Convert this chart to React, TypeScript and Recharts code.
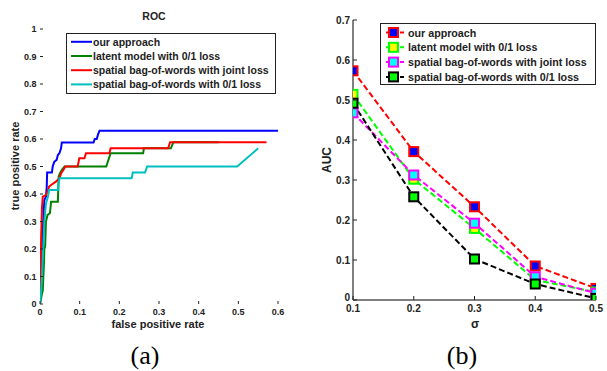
import React from 'react';
import { LineChart, Line, XAxis, YAxis, Legend } from 'recharts';

// ---------- (a) ROC data ----------
const rocXTicks = [0, 0.1, 0.2, 0.3, 0.4, 0.5, 0.6];
const rocYTicks = [0, 0.1, 0.2, 0.3, 0.4, 0.5, 0.6, 0.7, 0.8, 0.9, 1];

const oursFpr = [0, 0.003, 0.007, 0.011, 0.015, 0.017, 0.018, 0.03, 0.032, 0.036, 0.042, 0.045, 0.049, 0.053, 0.055, 0.135, 0.138, 0.143, 0.146, 0.15, 0.6];
const oursTpr = [0, 0.08, 0.27, 0.378, 0.39, 0.427, 0.478, 0.478, 0.5, 0.517, 0.524, 0.542, 0.548, 0.566, 0.587, 0.587, 0.6, 0.6, 0.615, 0.63, 0.63];

const latentFpr = [0, 0.004, 0.007, 0.01, 0.011, 0.013, 0.015, 0.019, 0.025, 0.028, 0.045, 0.046, 0.047, 0.05, 0.056, 0.062, 0.167, 0.178, 0.26, 0.262, 0.33, 0.336, 0.45];
const latentTpr = [0, 0.03, 0.05, 0.15, 0.2, 0.21, 0.3, 0.324, 0.33, 0.372, 0.372, 0.415, 0.463, 0.475, 0.49, 0.5, 0.5, 0.548, 0.548, 0.566, 0.566, 0.588, 0.588];

const jointFpr = [0, 0.001, 0.003, 0.005, 0.007, 0.015, 0.019, 0.023, 0.028, 0.04, 0.049, 0.053, 0.06, 0.064, 0.095, 0.099, 0.112, 0.116, 0.175, 0.178, 0.323, 0.328, 0.571];
const jointTpr = [0, 0.1, 0.25, 0.35, 0.39, 0.396, 0.408, 0.427, 0.433, 0.445, 0.457, 0.475, 0.49, 0.5, 0.5, 0.53, 0.53, 0.548, 0.548, 0.566, 0.566, 0.588, 0.588];

const zeroOneFpr = [0, 0.002, 0.005, 0.008, 0.011, 0.015, 0.02, 0.023, 0.046, 0.047, 0.049, 0.231, 0.234, 0.265, 0.27, 0.497, 0.55];
const zeroOneTpr = [0, 0.03, 0.1, 0.2, 0.3, 0.366, 0.39, 0.415, 0.415, 0.44, 0.457, 0.457, 0.478, 0.478, 0.5, 0.5, 0.566];

const rocNames = ['our approach', 'latent model with 0/1 loss', 'spatial bag-of-words with joint loss', 'spatial bag-of-words with 0/1 loss'];
const rocColors = ['#0000ff', '#008000', '#ff0000', '#00bfbf'];

// ---------- (b) AUC data ----------
const sigma = [0.1, 0.2, 0.3, 0.4, 0.5];
const aucYTicks = [0, 0.1, 0.2, 0.3, 0.4, 0.5, 0.6, 0.7];
const aucOurs = [0.573, 0.371, 0.233, 0.085, 0.029];
const aucLatent = [0.514, 0.302, 0.179, 0.05, 0.02];
const aucJoint = [0.468, 0.3125, 0.192, 0.058, 0.017];
const aucZeroOne = [0.492, 0.258, 0.1025, 0.04, 0.004];

const aucKeys = ['ours', 'latent', 'joint', 'zeroOne'];
const aucLineColors = ['#ff0000', '#00ff00', '#ff00ff', '#000000'];
const aucFillColors = ['#0000ff', '#ffff00', '#00ffff', '#00ff00'];

const zip = (xs: number[], ys: number[]) => xs.map((x, i) => ({ fpr: x, tpr: ys[i] }));
const rocData = [zip(oursFpr, oursTpr), zip(latentFpr, latentTpr), zip(jointFpr, jointTpr), zip(zeroOneFpr, zeroOneTpr)];

const aucRows = sigma.map((s, i) => ({
  s,
  ours: aucOurs[i],
  latent: aucLatent[i],
  joint: aucJoint[i],
  zeroOne: aucZeroOne[i],
}));

const FONT = 'Liberation Sans, Arial, Helvetica, sans-serif';
const INK = '#222';

const makeXTick = (len: number, gap: number, fs: number) => (p: any) => {
  const { x, y, payload, index } = p;
  return (
    <g key={`xt${index}`}>
      <line x1={x} x2={x} y1={y} y2={y - len} stroke={INK} strokeWidth={1} />
      <text x={x} y={y + gap} textAnchor="middle" dominantBaseline="central"
        style={{ fontFamily: FONT, fontSize: fs, fontWeight: 700, fill: INK }}>{String(payload.value)}</text>
    </g>
  );
};

const makeYTick = (len: number, gap: number, fs: number, dy = 0) => (p: any) => {
  const { x, y, payload, index } = p;
  return (
    <g key={`yt${index}`}>
      <line x1={x} x2={x + len} y1={y} y2={y} stroke={INK} strokeWidth={1} />
      <text x={x - gap} y={y + (payload.value === 0 ? dy : 0)} textAnchor="end" dominantBaseline="central"
        style={{ fontFamily: FONT, fontSize: fs, fontWeight: 700, fill: INK }}>{String(payload.value)}</text>
    </g>
  );
};

const RocLegend = () => (
  <svg width={210} height={61} style={{ display: 'block' }}>
    <rect x={0.5} y={0.5} width={209} height={60} fill="#fff" stroke={INK} strokeWidth={1} />
    {rocNames.map((n, i) => {
      const cy = 8.8 + i * 14.2;
      return (
        <g key={n}>
          <line x1={5} x2={26} y1={cy} y2={cy} stroke={rocColors[i]} strokeWidth={2} />
          <text x={27} y={cy} dominantBaseline="central"
            style={{ fontFamily: FONT, fontSize: 10.5, fontWeight: 700, fill: INK }}>{n}</text>
        </g>
      );
    })}
  </svg>
);

const AucLegend = () => (
  <svg width={216} height={62} style={{ display: 'block' }}>
    <rect x={0.5} y={0.5} width={215} height={61} fill="#fff" stroke={INK} strokeWidth={1} />
    {rocNames.map((n, i) => {
      const cy = 9.5 + i * 14.8;
      return (
        <g key={n}>
          <line x1={6} x2={26} y1={cy} y2={cy} stroke={aucLineColors[i]} strokeWidth={2} strokeDasharray="4 3" />
          <rect x={9} y={cy - 4.5} width={9} height={9} fill={aucFillColors[i]} stroke={aucLineColors[i]} strokeWidth={2} />
          <text x={28} y={cy} dominantBaseline="central"
            style={{ fontFamily: FONT, fontSize: 10.7, fontWeight: 700, fill: INK }}>{n}</text>
        </g>
      );
    })}
  </svg>
);

const makeSquare = (fill: string, stroke: string) => (p: any) => (
  <rect key={`sq${p.index}`} x={p.cx - 4.5} y={p.cy - 4.5} width={9} height={9} fill={fill} stroke={stroke} strokeWidth={2} />
);

const Abs = ({ x, y, rot = 0, style, children }: any) => (
  <div style={{
    position: 'absolute', left: x, top: y, transform: `translate(-50%,-50%) rotate(${rot}deg)`,
    whiteSpace: 'nowrap', lineHeight: 1, ...style,
  }}>{children}</div>
);

const labelStyle = { fontFamily: FONT, fontWeight: 700, color: INK };

export default function App() {
  return (
    <div style={{ position: 'absolute', left: 0, top: 0, width: 607, height: 371, background: '#fff', overflow: 'hidden' }}>
      <div style={{ position: 'absolute', left: 0, top: 0 }}>
        <LineChart width={300} height={371} margin={{ top: 29, right: 22, bottom: 47, left: 10 }}>
          <XAxis dataKey="fpr" type="number" domain={[0, 0.6]} ticks={rocXTicks} interval={0}
            height={20} axisLine={false} tickLine={false} tickSize={0} tickMargin={0}
            tick={makeXTick(3, 7.7, 9)} allowDataOverflow />
          <YAxis type="number" domain={[0, 1]} ticks={rocYTicks} interval={0}
            width={30} axisLine={false} tickLine={false} tickSize={0} tickMargin={0}
            tick={makeYTick(3, 3.5, 9)} allowDataOverflow />
          {rocData.map((d, i) => (
            <Line key={rocNames[i]} data={d} dataKey="tpr" name={rocNames[i]} type="linear"
              stroke={rocColors[i]} strokeWidth={2} dot={false} isAnimationActive={false} />
          ))}
          <Legend layout="vertical" align="center" verticalAlign="middle"
            wrapperStyle={{ left: 66, top: 33, width: 210, height: 61 }} content={() => <RocLegend />} />
        </LineChart>
      </div>

      <div style={{ position: 'absolute', left: 300, top: 0 }}>
        <LineChart width={307} height={371} data={aucRows} margin={{ top: 20, right: 11, bottom: 51, left: 13 }}>
          <XAxis xAxisId="b" dataKey="s" type="number" domain={[0.1, 0.5]} ticks={sigma} interval={0}
            height={20} axisLine={{ stroke: '#000' }} tickLine={false} tickSize={0} tickMargin={0}
            tick={makeXTick(4, 8.5, 10)} allowDataOverflow />
          <XAxis xAxisId="t" orientation="top" dataKey="s" type="number" domain={[0.1, 0.5]} ticks={sigma} interval={0}
            height={0} mirror axisLine={false} tick={false} tickLine={{ stroke: '#000' }} tickSize={4} allowDataOverflow />
          <YAxis yAxisId="l" type="number" domain={[0, 0.7]} ticks={aucYTicks} interval={0}
            width={40} axisLine={{ stroke: '#000' }} tickLine={false} tickSize={0} tickMargin={0}
            tick={makeYTick(4, 3, 10, -2.5)} allowDataOverflow />
          <YAxis yAxisId="r" orientation="right" type="number" domain={[0, 0.7]} ticks={aucYTicks} interval={0}
            width={0} mirror axisLine={{ stroke: '#000' }} tick={false} tickLine={{ stroke: '#000' }} tickSize={4} allowDataOverflow />
          {aucKeys.map((k, i) => (
            <Line key={k} xAxisId="b" yAxisId="l" dataKey={k} name={rocNames[i]} type="linear"
              stroke={aucLineColors[i]} strokeWidth={2} strokeDasharray="6 3"
              dot={makeSquare(aucFillColors[i], aucLineColors[i])} activeDot={false} isAnimationActive={false} />
          ))}
          <Legend layout="vertical" align="center" verticalAlign="middle"
            wrapperStyle={{ left: 80, top: 23, width: 216, height: 62 }} content={() => <AucLegend />} />
        </LineChart>
      </div>

      <Abs x={154} y={15.5} style={{ ...labelStyle, fontSize: 10.5 }}>ROC</Abs>
      <Abs x={15} y={166} rot={-90} style={{ ...labelStyle, fontSize: 11 }}>true positive rate</Abs>
      <Abs x={158} y={324} style={{ ...labelStyle, fontSize: 11 }}>false positive rate</Abs>
      <Abs x={327} y={160} rot={-90} style={{ ...labelStyle, fontSize: 12 }}>AUC</Abs>
      <Abs x={475} y={324} style={{ ...labelStyle, fontSize: 12 }}>σ</Abs>
      <Abs x={145} y={356} style={{ fontFamily: 'Liberation Serif, Times New Roman, serif', fontSize: 26, color: '#000' }}>(a)</Abs>
      <Abs x={462} y={356} style={{ fontFamily: 'Liberation Serif, Times New Roman, serif', fontSize: 26, color: '#000' }}>(b)</Abs>
    </div>
  );
}
